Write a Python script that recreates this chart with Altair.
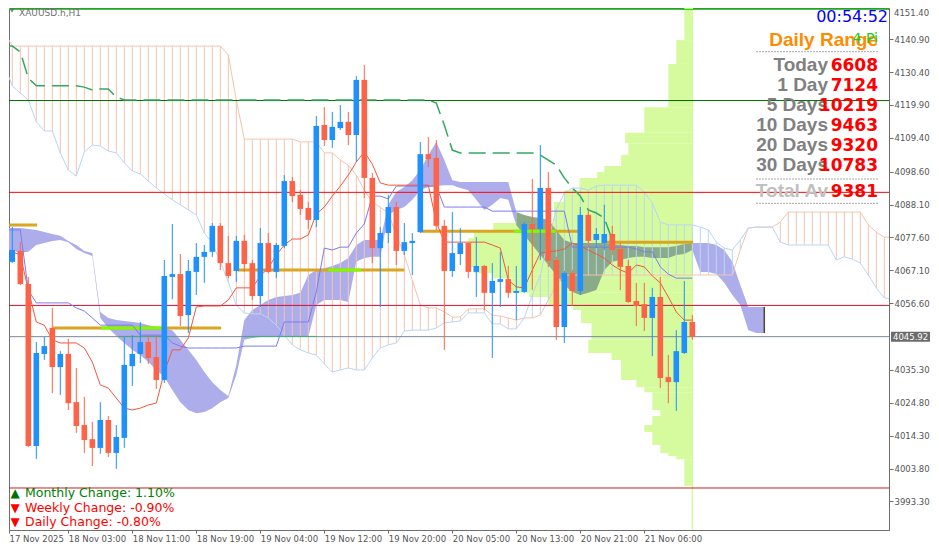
import altair as alt
import pandas as pd

# ---------------- data (XAUUSD H1) ----------------
candle_open = [
    4064.0, 4069.8, 4073.3, 4062.7, 4011.0, 4040.4, 4048.7, 4036.2, 4040.4, 4025.0,
    4017.7, 4013.2, 4010.4, 4019.3, 4008.8, 4013.6, 4036.5, 4040.4, 4044.2, 4039.4,
    4032.1, 4065.0, 4065.9, 4052.8, 4066.6, 4071.4, 4073.0, 4081.3, 4069.4, 4066.9,
    4076.5, 4069.4, 4058.9, 4075.8, 4066.6, 4074.9, 4095.6, 4091.2, 4087.0, 4083.2,
    4113.5, 4108.7, 4112.5, 4114.5, 4110.3, 4127.9, 4096.6, 4074.2, 4079.0, 4087.3,
    4073.3, 4075.8, 4079.3, 4104.2, 4103.0, 4081.3, 4066.9, 4072.3, 4075.8, 4066.6,
    4068.5, 4059.9, 4063.4, 4064.3, 4059.9, 4060.2, 4081.9, 4080.3, 4093.4, 4070.4,
    4049.0, 4066.2, 4060.5, 4084.8, 4076.8, 4075.8, 4078.7, 4073.9, 4068.5, 4057.3,
    4056.3, 4051.9, 4058.6, 4033.0, 4031.4, 4040.7, 4050.6]
candle_high = [
    4073.6, 4080.9, 4076.1, 4065.0, 4044.2, 4045.8, 4055.1, 4041.3, 4045.2, 4035.9,
    4026.7, 4018.7, 4025.0, 4020.6, 4017.7, 4045.8, 4046.4, 4050.6, 4046.4, 4046.4,
    4070.4, 4081.9, 4072.3, 4070.4, 4075.8, 4075.2, 4082.2, 4082.2, 4078.1, 4078.1,
    4078.4, 4070.4, 4080.6, 4079.0, 4075.8, 4097.5, 4096.9, 4092.7, 4088.9, 4116.4,
    4119.2, 4117.7, 4119.9, 4117.7, 4129.1, 4132.7, 4098.2, 4080.9, 4091.2, 4088.9,
    4082.2, 4079.0, 4108.1, 4109.7, 4108.7, 4083.2, 4085.7, 4080.6, 4076.1, 4077.7,
    4068.8, 4069.4, 4073.0, 4068.5, 4068.5, 4082.5, 4096.3, 4107.1, 4098.5, 4071.4,
    4066.9, 4067.2, 4087.3, 4086.4, 4080.6, 4088.0, 4081.3, 4075.8, 4070.4, 4063.1,
    4063.1, 4061.5, 4065.0, 4040.1, 4048.0, 4063.7, 4052.8]
candle_low = [
    4052.2, 4069.4, 4062.4, 4010.7, 4006.9, 4038.5, 4027.9, 4027.3, 4022.5, 4015.2,
    4008.8, 4004.6, 4008.5, 4007.5, 4003.7, 4010.4, 4030.2, 4037.5, 4037.2, 4029.2,
    4031.1, 4057.9, 4049.3, 4047.1, 4059.2, 4063.1, 4071.4, 4067.2, 4064.6, 4063.4,
    4066.6, 4057.6, 4055.4, 4066.2, 4064.6, 4074.2, 4088.9, 4084.8, 4080.3, 4080.9,
    4106.8, 4106.2, 4111.9, 4107.1, 4101.7, 4090.2, 4069.4, 4055.4, 4075.8, 4068.8,
    4072.0, 4065.6, 4079.0, 4100.1, 4080.0, 4041.7, 4065.0, 4068.8, 4064.6, 4058.6,
    4054.4, 4039.1, 4055.4, 4058.3, 4051.2, 4059.9, 4060.8, 4070.4, 4068.2, 4044.9,
    4043.9, 4055.7, 4059.2, 4074.5, 4074.2, 4073.6, 4072.0, 4060.8, 4056.7, 4049.3,
    4047.7, 4039.7, 4029.5, 4024.7, 4022.2, 4040.4, 4044.9]
candle_close = [
    4073.0, 4073.6, 4062.7, 4011.0, 4040.7, 4042.9, 4036.2, 4040.4, 4024.7, 4017.4,
    4012.9, 4010.4, 4019.3, 4008.8, 4013.9, 4036.9, 4040.4, 4044.2, 4039.1, 4032.1,
    4065.3, 4065.9, 4052.5, 4066.9, 4071.4, 4073.0, 4081.3, 4069.4, 4065.3, 4076.5,
    4069.1, 4058.9, 4075.8, 4066.6, 4075.2, 4095.6, 4090.8, 4086.7, 4083.2, 4113.2,
    4108.7, 4112.9, 4114.5, 4110.3, 4127.9, 4096.6, 4074.2, 4079.0, 4087.3, 4073.3,
    4076.1, 4076.5, 4104.2, 4102.6, 4081.3, 4066.9, 4072.6, 4075.8, 4066.6, 4068.5,
    4059.9, 4063.7, 4064.3, 4059.9, 4060.5, 4081.9, 4080.3, 4093.4, 4070.1, 4049.0,
    4066.2, 4060.5, 4084.8, 4076.5, 4078.7, 4078.7, 4073.6, 4068.2, 4057.0, 4055.7,
    4051.9, 4058.6, 4032.7, 4031.4, 4041.3, 4050.6, 4045.92]

tenkan = [
    4074.5, 4073.0, 4072.0, 4060.8, 4050.6, 4049.6, 4044.9, 4043.9, 4043.9, 4043.9,
    4042.3, 4037.8, 4030.5, 4029.5, 4026.3, 4023.1, 4022.5, 4023.1, 4024.1, 4024.7,
    4034.6, 4041.7, 4041.7, 4045.5, 4055.4, 4055.7, 4055.7, 4055.7, 4057.6, 4061.5,
    4061.5, 4061.5, 4065.3, 4067.8, 4072.0, 4075.2, 4077.1, 4077.1, 4078.4, 4085.1,
    4087.3, 4090.8, 4094.0, 4097.5, 4101.7, 4104.9, 4101.0, 4095.0, 4094.3, 4094.3,
    4094.3, 4094.3, 4094.3, 4094.3, 4082.5, 4076.1, 4076.1, 4076.1, 4076.1, 4076.1,
    4076.1, 4075.2, 4074.2, 4064.0, 4061.8, 4061.5, 4067.2, 4072.6, 4073.0, 4073.3,
    4073.9, 4075.8, 4074.9, 4073.6, 4072.3, 4071.0, 4068.8, 4067.2, 4066.2, 4068.8,
    4068.2, 4065.3, 4063.1, 4058.6, 4053.8, 4051.2, 4051.2]
kijun = [
    4080.0, 4080.0, 4080.0, 4060.8, 4056.7, 4056.7, 4056.7, 4056.7, 4056.7, 4055.1,
    4054.1, 4051.9, 4049.6, 4049.6, 4049.6, 4049.6, 4049.6, 4046.4, 4046.4, 4046.4,
    4046.4, 4043.9, 4042.9, 4042.3, 4042.3, 4042.3, 4042.3, 4042.3, 4042.3, 4042.3,
    4042.9, 4042.9, 4042.9, 4042.9, 4042.9, 4050.6, 4050.6, 4050.6, 4050.6, 4060.2,
    4074.2, 4073.6, 4074.5, 4074.5, 4079.0, 4081.9, 4090.8, 4090.8, 4089.9, 4094.0,
    4094.0, 4094.0, 4094.0, 4094.0, 4094.0, 4087.3, 4087.3, 4087.3, 4087.3, 4087.3,
    4087.3, 4086.0, 4086.0, 4086.0, 4086.0, 4086.0, 4086.0, 4086.0, 4086.0, 4086.0,
    4086.0, 4074.5, 4074.5, 4074.5, 4074.5, 4074.5, 4074.5, 4074.5, 4074.5, 4073.9,
    4073.0, 4073.0, 4068.2, 4065.9, 4064.6, 4064.6, 4064.6]

# Ichimoku cloud spans (bars 0..112, shifted forward)
span_a = [
    4143.2, 4138.7, 4138.7, 4138.7, 4138.7, 4138.7, 4138.7, 4138.7, 4138.7, 4138.7,
    4138.7, 4138.7, 4138.7, 4138.7, 4138.7, 4138.7, 4138.7, 4138.7, 4138.7, 4138.7,
    4138.7, 4138.7, 4138.7, 4138.7, 4138.7, 4138.7, 4138.7, 4138.7, 4135.9, 4121.5,
    4109.0, 4109.0, 4109.0, 4109.0, 4109.0, 4109.0, 4109.0, 4108.1, 4108.1, 4108.1,
    4104.6, 4104.6, 4102.3, 4100.7, 4097.5, 4092.7, 4088.9, 4087.3, 4085.4, 4078.4,
    4072.0, 4064.0, 4056.0, 4055.1, 4055.1, 4053.8, 4052.2, 4052.2, 4054.8, 4054.8,
    4054.8, 4052.8, 4052.5, 4051.9, 4051.2, 4051.9, 4051.9, 4052.8, 4057.6, 4062.4,
    4065.6, 4065.6, 4065.6, 4065.6, 4065.6, 4065.6, 4065.6, 4065.6, 4065.6, 4065.6,
    4065.6, 4065.6, 4065.6, 4065.6, 4065.6, 4065.6, 4065.6, 4065.6, 4065.6, 4065.6,
    4065.6, 4065.6, 4073.6, 4080.6, 4080.9, 4080.9, 4080.9, 4082.5, 4085.7, 4085.7,
    4085.7, 4085.7, 4085.7, 4085.7, 4085.7, 4085.7, 4085.7, 4085.7, 4081.6, 4079.3,
    4077.7, 4077.7, 4077.7]
span_b = [
    4132.7, 4126.0, 4123.7, 4121.5, 4114.5, 4111.6, 4111.6, 4104.6, 4099.1, 4097.2,
    4104.9, 4107.1, 4106.8, 4105.2, 4104.6, 4101.4, 4098.8, 4097.9, 4095.6, 4093.4,
    4091.5, 4089.6, 4088.0, 4086.4, 4084.8, 4079.0, 4075.8, 4069.8, 4063.4, 4056.0,
    4053.5, 4053.2, 4053.2, 4051.9, 4049.6, 4046.4, 4043.3, 4041.7, 4040.7, 4040.1,
    4037.2, 4034.6, 4035.3, 4035.9, 4035.3, 4035.3, 4039.1, 4042.3, 4043.3, 4043.9,
    4047.7, 4048.0, 4048.0, 4048.0, 4048.7, 4050.3, 4050.6, 4050.9, 4053.5, 4053.5,
    4053.5, 4050.0, 4050.0, 4048.4, 4048.4, 4051.9, 4059.2, 4065.6, 4076.8, 4086.4,
    4091.8, 4093.4, 4093.4, 4092.7, 4094.0, 4094.3, 4094.3, 4094.3, 4094.3, 4094.3,
    4092.1, 4088.6, 4082.5, 4081.6, 4081.6, 4081.6, 4081.6, 4080.9, 4080.0, 4076.1,
    4074.2, 4073.6, 4076.8, 4080.6, 4080.9, 4080.9, 4080.9, 4076.1, 4075.2, 4075.2,
    4075.2, 4075.2, 4075.2, 4075.2, 4070.4, 4071.4, 4070.7, 4069.4, 4065.6, 4061.5,
    4058.3, 4057.9, 4057.9]

# second (filled) cloud band, bars 0..95
band_top = [
    4080.6, 4080.6, 4080.6, 4080.3, 4080.0, 4079.3, 4078.7, 4078.1, 4076.5, 4075.2,
    4073.3, 4072.6, 4053.8, 4051.9, 4051.2, 4050.9, 4050.6, 4050.3, 4049.6, 4049.0,
    4048.7, 4048.0, 4044.9, 4041.7, 4038.5, 4034.6, 4031.4, 4028.9, 4027.0, 4036.9,
    4051.2, 4054.4, 4056.0, 4057.6, 4058.6, 4058.9, 4059.2, 4059.9, 4065.6, 4067.2,
    4067.8, 4068.5, 4069.4, 4071.0, 4075.2, 4076.8, 4076.8, 4076.8, 4088.0, 4092.1,
    4093.7, 4095.9, 4099.1, 4103.9, 4108.1, 4102.3, 4095.9, 4095.3, 4095.3, 4095.3,
    4095.3, 4095.3, 4095.3, 4095.3, 4085.7, 4084.8, 4084.1, 4083.8, 4083.2, 4080.0,
    4076.8, 4075.8, 4075.8, 4075.8, 4075.8, 4075.8, 4075.5, 4075.2, 4074.9, 4074.9,
    4074.5, 4074.5, 4074.5, 4074.5, 4074.9, 4075.5, 4075.8, 4075.8, 4075.8, 4075.2,
    4073.6, 4069.8, 4062.4, 4055.4, 4055.4, 4055.4]
band_bottom = [
    4073.0, 4073.6, 4072.6, 4073.0, 4075.2, 4075.8, 4076.5, 4076.8, 4076.1, 4073.9,
    4072.6, 4071.7, 4051.9, 4048.7, 4046.1, 4043.9, 4041.7, 4040.1, 4037.8, 4035.3,
    4033.0, 4028.9, 4025.0, 4022.5, 4021.5, 4021.9, 4023.1, 4025.0, 4026.3, 4033.7,
    4044.9, 4045.5, 4045.8, 4045.8, 4045.8, 4045.8, 4045.8, 4045.8, 4045.8, 4056.0,
    4057.6, 4057.6, 4057.6, 4057.0, 4069.8, 4071.0, 4071.4, 4071.4, 4084.8, 4086.4,
    4087.3, 4089.6, 4092.7, 4093.7, 4094.0, 4094.3, 4094.3, 4093.4, 4092.7, 4089.6,
    4086.4, 4088.0, 4090.2, 4089.6, 4081.6, 4078.4, 4075.2, 4072.0, 4068.8, 4065.6,
    4062.4, 4060.2, 4059.2, 4059.9, 4060.8, 4067.2, 4069.8, 4070.4, 4071.0, 4071.4,
    4071.4, 4071.0, 4071.0, 4071.0, 4072.0, 4072.3, 4073.6, 4066.6, 4066.6, 4065.9,
    4063.1, 4059.2, 4056.0, 4048.0, 4047.1, 4047.1]
band_shaded_from, band_shaded_to = 64, 86

# dashed green line, bars 0..76
green_dash = [
    4138.7, 4138.7, 4136.8, 4128.5, 4126.0, 4126.0, 4126.0, 4126.0, 4126.0, 4126.0,
    4125.6, 4124.7, 4125.0, 4125.0, 4122.4, 4121.5, 4121.5, 4121.5, 4121.5, 4121.5,
    4121.5, 4121.5, 4121.5, 4121.5, 4121.5, 4121.5, 4121.5, 4121.5, 4121.5, 4121.5,
    4121.5, 4121.5, 4121.5, 4121.5, 4121.5, 4121.5, 4121.5, 4121.5, 4121.5, 4121.5,
    4121.5, 4121.5, 4121.5, 4121.5, 4121.5, 4121.5, 4121.5, 4121.5, 4121.5, 4121.5,
    4121.5, 4121.5, 4121.5, 4121.5, 4120.5, 4113.5, 4105.5, 4104.6, 4104.6, 4104.6,
    4104.6, 4104.6, 4104.6, 4104.6, 4104.6, 4104.6, 4104.6, 4103.9, 4102.3, 4100.7,
    4096.6, 4093.4, 4090.8, 4086.4, 4085.4, 4083.8, 4076.8]

# volume profile: bin edges (top -> bottom) and bar length in bars
vp_edges = [4152.5, 4140.6, 4133.0, 4119.2, 4111.0, 4107.7, 4103.9, 4100.4, 4098.5, 4096.6,
            4092.7, 4088.9, 4082.2, 4079.3, 4077.4, 4068.2, 4066.2, 4064.6, 4059.9, 4058.6,
            4056.0, 4054.4, 4050.3, 4044.9, 4040.7, 4038.5, 4032.1, 4029.8, 4028.2, 4022.5,
            4020.6, 4017.7, 4015.5, 4011.3, 4008.8, 4007.8, 4006.8, 3998.2]
vp_len = [1.1, 2.1, 3.1, 6.1, 8.5, 8.1, 9.0, 11.1, 12.0, 14.2, 16.1, 17.4, 25.0, 27.4, 28.1,
          27.4, 25.0, 22.7, 20.5, 18.1, 15.0, 14.0, 12.7, 13.1, 10.2, 9.0, 7.1, 6.1, 5.1, 4.1,
          5.1, 6.1, 5.1, 4.1, 3.1, 2.1, 1.1]

# horizontal levels
hline_prices = [4150.4, 4121.3, 4092.0, 4055.9, 4045.92, 3997.6]
gold_start = [0.0, 6.1, 29.2, 52.1, 75.2]
gold_end = [4.1, 27.1, 50.0, 71.7, 86.1]
gold_price = [4081.6, 4048.7, 4067.2, 4079.6, 4076.1]
lime_start = [12.1, 40.5, 63.7]
lime_end = [19.6, 44.6, 68.9]
lime_price = [4048.7, 4067.2, 4079.6]
sea_start = [14.3, 30.0]
sea_end = [21.2, 39.0]
sea_price = [4046.0, 4046.0]

time_labels = ["17 Nov 2025", "18 Nov 03:00", "18 Nov 11:00", "18 Nov 19:00", "19 Nov 04:00",
               "19 Nov 12:00", "19 Nov 20:00", "20 Nov 05:00", "20 Nov 13:00", "20 Nov 21:00",
               "21 Nov 06:00"]
time_label_bars = [0, 8, 16, 24, 32, 40, 48, 56, 64, 72, 80]
price_ticks = [4151.40, 4140.90, 4130.40, 4119.90, 4109.40, 4098.60, 4088.10, 4077.60,
               4067.10, 4056.60, 4035.30, 4024.80, 4014.30, 4003.80, 3993.30, 3982.80]
bid_price = 4045.92

range_labels = ["Today", "1 Day", "5 Days", "10 Days", "20 Days", "30 Days"]
range_values = ["6608", "7124", "10219", "9463", "9320", "10783"]
total_label, total_value = "Total Av", "9381"
change_texts = ["Monthly Change: 1.10%", "Weekly Change: -0.90%", "Daily Change: -0.80%"]
change_up = [True, False, False]

# ---------------- layout & styling ----------------
W, H = 880, 522
PX_PER_BAR = 8.0
PX_PER_PRICE = 1 / 0.3193
X_DOM = [0.5875, 0.5875 + W / PX_PER_BAR]
Y_DOM = [4150.86 - H / PX_PER_PRICE, 4150.86]
BULL, BEAR = "#1e90ff", "#ff6347"
SALMON, LTBLUE = "#f2c4b0", "#b8d6f6"
PURPLE, SHADED = "#adadeb", "#8aab8a"
VPGREEN = "#d6fb9e"
GOLD, LIME, SEA = "#daa520", "#7cfc00", "#3cb371"
hline_colors = ["#00e600", "#006400", "#ff0000", "#cc1133", "#778899", "#cc1f1f"]
AXIS_FONT = "DejaVu Sans"
AXIS_LABEL = "#555555"

xs = alt.Scale(domain=X_DOM, nice=False, zero=False)
ys = alt.Scale(domain=Y_DOM, nice=False, zero=False)

x_axis = alt.Axis(
    values=[X_DOM[0]] + time_label_bars[1:],
    labelExpr="[" + ",".join(f"'{t}'" for t in time_labels) + "][round(datum.value / 8)]",
    labelAlign="left", labelBaseline="top", labelPadding=1, tickSize=3,
    tickColor="#6e6e6e", domainColor="#6e6e6e", labelColor=AXIS_LABEL,
    labelFont=AXIS_FONT, labelFontSize=8.5, grid=False, title=None,
    labelFlush=False, labelOverlap=False, labelBound=False)
y_axis = alt.Axis(
    orient="right", values=[v for v in price_ticks if Y_DOM[0] + 1.5 < v < Y_DOM[1] - 1.5],
    format=".2f", tickSize=4, labelPadding=1,
    tickColor="#6e6e6e", domainColor="#6e6e6e", labelColor=AXIS_LABEL,
    labelFont=AXIS_FONT, labelFontSize=8.5, grid=False, title=None,
    labelFlush=False, labelOverlap=False, labelBound=False)


def X(f):
    return alt.X(f, type="quantitative", scale=xs, axis=x_axis)


def Y(f):
    return alt.Y(f, type="quantitative", scale=ys, axis=y_axis)


n = len(candle_open)
candles = pd.DataFrame({"k": range(n), "open": candle_open, "high": candle_high,
                        "low": candle_low, "close": candle_close})
lines = pd.DataFrame({"k": range(n), "tenkan": tenkan, "kijun": kijun})
cloud = pd.DataFrame({"k": range(len(span_a)), "a": span_a, "b": span_b})
dash = pd.DataFrame({"k": range(len(green_dash)), "v": green_dash})
band = pd.DataFrame({"k": range(len(band_top)), "t": band_top, "b": band_bottom})
one = pd.DataFrame({"d": [0]})

VP_ANCHOR = n - 1 + 0.1
vp = pd.DataFrame({"hi": vp_edges[:-1], "lo": vp_edges[1:], "len": vp_len})

bull = "datum.close >= datum.open"

# ---------------- layers ----------------
layers = []
layers.append(alt.Chart(vp).transform_calculate(
    left=f"{VP_ANCHOR} - datum.len", right=f"{VP_ANCHOR}"
).mark_rect(color=VPGREEN, clip=True).encode(
    x=X("left:Q"), x2=alt.X2("right:Q"), y=Y("hi:Q"), y2=alt.Y2("lo:Q")))

layers.append(alt.Chart(pd.DataFrame({"x": [n - 1], "lo": [vp_edges[-1]]})).mark_rule(
    color=VPGREEN, strokeWidth=1.5).encode(x=X("x:Q"), y=Y("lo:Q"), y2=alt.value(H)))

for lo_k, hi_k, col in [(0, band_shaded_from, PURPLE),
                        (band_shaded_from, band_shaded_to, SHADED),
                        (band_shaded_to, len(band_top) - 1, PURPLE)]:
    seg = band[(band.k >= lo_k) & (band.k <= hi_k)]
    layers.append(alt.Chart(seg).mark_area(color=col, clip=True).encode(
        x=X("k:Q"), y=Y("t:Q"), y2=alt.Y2("b:Q")))

layers.append(alt.Chart(band.tail(1)).mark_rule(color="#4b4b2a", strokeWidth=1.5).encode(
    x=X("k:Q"), y=Y("t:Q"), y2=alt.Y2("b:Q")))

layers.append(alt.Chart(cloud).mark_rule(clip=True, strokeWidth=1).encode(
    x=X("k:Q"), y=Y("a:Q"), y2=alt.Y2("b:Q"),
    color=alt.condition("datum.a >= datum.b", alt.value(SALMON), alt.value(LTBLUE))))
layers.append(alt.Chart(cloud).mark_line(clip=True, color=SALMON, strokeWidth=1).encode(
    x=X("k:Q"), y=Y("a:Q")))
layers.append(alt.Chart(cloud).mark_line(clip=True, color=LTBLUE, strokeWidth=1).encode(
    x=X("k:Q"), y=Y("b:Q")))

for p, col in zip(hline_prices, hline_colors):
    layers.append(alt.Chart(pd.DataFrame({"p": [p]})).mark_rule(
        color=col, strokeWidth=1).encode(y=Y("p:Q")))


def segs(s, e, p, color, width):
    return alt.Chart(pd.DataFrame({"s": s, "e": e, "p": p})).mark_rule(
        color=color, strokeWidth=width, clip=True).encode(
        x=X("s:Q"), x2=alt.X2("e:Q"), y=Y("p:Q"))


layers.append(segs(gold_start, gold_end, gold_price, GOLD, 3))
layers.append(segs(lime_start, lime_end, lime_price, LIME, 3))
layers.append(segs(sea_start, sea_end, sea_price, SEA, 1))

layers.append(alt.Chart(dash).mark_line(color="#34a862", strokeWidth=1.5,
                                        strokeDash=[17, 7], clip=True).encode(
    x=X("k:Q"), y=Y("v:Q")))
layers.append(alt.Chart(lines).mark_line(color="#7b7bee", strokeWidth=1, clip=True).encode(
    x=X("k:Q"), y=Y("kijun:Q")))
layers.append(alt.Chart(lines).mark_line(color="#f0583a", strokeWidth=1, clip=True).encode(
    x=X("k:Q"), y=Y("tenkan:Q")))

layers.append(alt.Chart(candles).mark_rule(strokeWidth=1, clip=True).encode(
    x=X("k:Q"), y=Y("low:Q"), y2=alt.Y2("high:Q"),
    color=alt.condition(bull, alt.value(BULL), alt.value(BEAR))))
layers.append(alt.Chart(candles).transform_calculate(
    x1="datum.k - 0.35", x2="datum.k + 0.35"
).mark_rect(clip=True).encode(
    x=X("x1:Q"), x2=alt.X2("x2:Q"), y=Y("open:Q"), y2=alt.Y2("close:Q"),
    color=alt.condition(bull, alt.value(BULL), alt.value(BEAR))))


def txt(text, x, y, color, size, font="DejaVu Sans", weight="normal", align="left",
        baseline="alphabetic"):
    return alt.Chart(pd.DataFrame({"t": [text]})).mark_text(
        align=align, baseline=baseline, font=font, fontSize=size,
        fontWeight=weight, color=color).encode(
        x=alt.value(x), y=alt.value(y), text="t:N")


# top price label that sits at the very edge of the price scale
layers.append(txt(f"{price_ticks[0]:.2f}", W + 5, 0.5, AXIS_LABEL, 8.5, baseline="top"))

bid_y = (Y_DOM[1] - bid_price) * PX_PER_PRICE
layers.append(alt.Chart(one).mark_rect(color="#6b6b6b").encode(
    x=alt.value(W + 2), x2=alt.value(W + 41), y=alt.value(bid_y - 5),
    y2=alt.value(bid_y + 5)))
layers.append(txt(f"{bid_price:.2f}", W + 4, bid_y + 3.2, "white", 8.5))

layers.append(alt.Chart(one).mark_point(
    shape="triangle-down", filled=True, size=18, color="#555555").encode(
    x=alt.value(3), y=alt.value(3)))
layers.append(txt("XAUUSD.h,H1", 10, 7.5, "#707070", 9))
layers.append(txt("00:54:52", 879, 13.7, "#0000ff", 16, align="right"))
layers.append(txt("Daily Range", 869, 37.7, "#ff8c00", 19, font="Liberation Sans",
                  weight="bold", align="right"))
layers.append(txt("4 Pi", 869, 35.3, "#22cc22", 14, align="right"))

for yy in [43.7, 171.0, 195.3]:
    layers.append(alt.Chart(one).mark_rule(
        color="#a8a8a8", strokeWidth=1, strokeDash=[2, 1]).encode(
        x=alt.value(747), x2=alt.value(870), y=alt.value(yy)))

row_base = [62.7, 82.7, 102.7, 122.7, 142.7, 162.7]
for lab, val, yy in zip(range_labels, range_values, row_base):
    layers.append(txt(lab, 819, yy, "#808080", 19, font="Liberation Sans",
                      weight="bold", align="right"))
    layers.append(txt(val, 869, yy, "#ff0000", 17, weight="bold", align="right"))
layers.append(txt(total_label, 819, 189.3, "#c0c0c0", 19, font="Liberation Sans",
                  weight="bold", align="right"))
layers.append(txt(total_value, 869, 189.3, "#ff0000", 17, weight="bold", align="right"))

for t, up, yy in zip(change_texts, change_up, [489.0, 503.5, 517.5]):
    col = "#008000" if up else "#ff0000"
    layers.append(txt("▲" if up else "▼", 6, yy, "#007000" if up else "#ff0000",
                      12, align="center"))
    layers.append(txt(t, 16, yy, col, 12.5))

chart = alt.layer(*layers).properties(
    width=W, height=H, padding=0, background="white"
).configure_view(stroke="#6e6e6e", strokeWidth=1)

chart.save("out.html", embed_options={"renderer": "svg", "actions": False})
